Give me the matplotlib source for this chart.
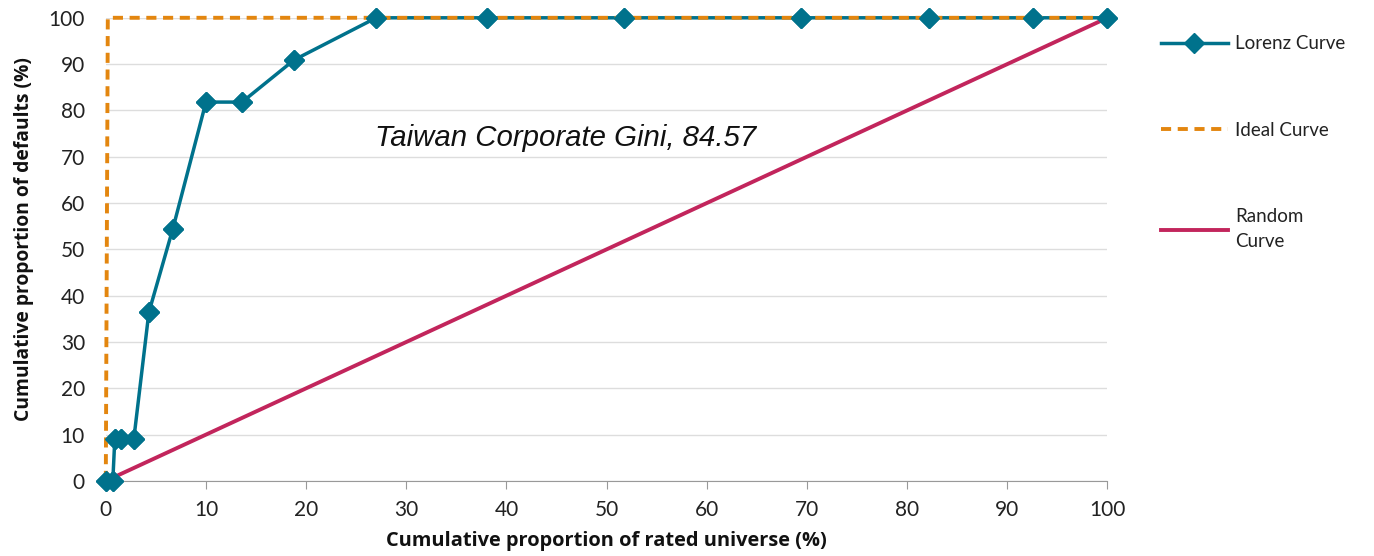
import matplotlib
matplotlib.use('Agg')
import matplotlib.pyplot as plt
import numpy as np

# Data
lorenz_x = [0, 0.7, 0.9, 1.5, 2.8, 4.3, 6.7, 10.0, 13.6, 18.8, 27.0, 38.1, 51.7, 69.4, 82.2, 92.6, 100]
lorenz_y = [0, 0, 9.1, 9.1, 9.1, 36.4, 54.5, 81.8, 81.8, 90.9, 100, 100, 100, 100, 100, 100, 100]
ideal_x = [0, 0.2, 100]
ideal_y = [0, 100, 100]
random_x = [0, 100]
random_y = [0, 100]

gini_label = 'Taiwan Corporate Gini, 84.57'
x_ticks = list(range(0, 101, 10))
y_ticks = list(range(0, 101, 10))

plt.rcParams['font.family'] = ['Lato', 'DejaVu Sans']

teal = '#00728C'
orange = '#E3860F'
crimson = '#C2255C'
text_col = '#222222'

fig = plt.figure(figsize=(13.74, 5.56), dpi=100)
ax = fig.add_axes([0.077, 0.135, 0.729, 0.833])

ax.plot(random_x, random_y, color=crimson, lw=2.8, label='Random\nCurve', zorder=3, clip_on=False)
ax.plot(lorenz_x, lorenz_y, color=teal, lw=2.5, marker='D', markersize=10, label='Lorenz Curve', zorder=4,
        clip_on=False)
# dashes sit on top of the Lorenz line, markers go on top again
ax.plot(ideal_x, ideal_y, color=orange, lw=2.8, ls=(0, (2.6, 1.7)), label='Ideal Curve', zorder=5,
        clip_on=False)
ax.plot(lorenz_x, lorenz_y, color=teal, lw=0, marker='D', markersize=10, zorder=6, clip_on=False)

ax.text(45.9, 74.0, gini_label, fontsize=21.2, style='italic', family='Liberation Sans',
        ha='center', va='center', color='#111111')

ax.set_xlim(0, 100)
ax.set_ylim(0, 100)
ax.set_xticks(x_ticks)
ax.set_yticks(y_ticks)
ax.tick_params(axis='both', labelsize=15, labelcolor=text_col)
ax.tick_params(axis='x', length=6, color='#999999', direction='out', pad=8)
ax.tick_params(axis='y', length=0, pad=15)
ax.grid(axis='y', color='#DDDDDD', lw=1)
ax.set_axisbelow(True)
for side in ['top', 'right', 'left']:
    ax.spines[side].set_visible(False)
ax.spines['bottom'].set_color('#999999')
ax.margins(0)

ax.set_xlabel('Cumulative proportion of rated universe (%)', fontsize=14.4, fontweight='bold',
              family='Open Sans', color='#111111', labelpad=8)
ax.set_ylabel('Cumulative proportion of defaults (%)', fontsize=13.9, fontweight='bold',
              family='Open Sans', color='#111111', labelpad=8)
ax.yaxis.set_label_coords(-0.072, 0.523)

handles, labels = ax.get_legend_handles_labels()
order = [1, 2, 0]
leg = fig.legend([handles[i] for i in order], [labels[i] for i in order],
                 loc='upper left', bbox_to_anchor=(0.8325, 0.967), frameon=False,
                 fontsize=13.5, handlelength=3.6, handletextpad=0.37, labelspacing=3.7)
for t in leg.get_texts():
    t.set_color(text_col)
    t.set_linespacing(1.6)

fig.savefig('out.png', dpi=100)
